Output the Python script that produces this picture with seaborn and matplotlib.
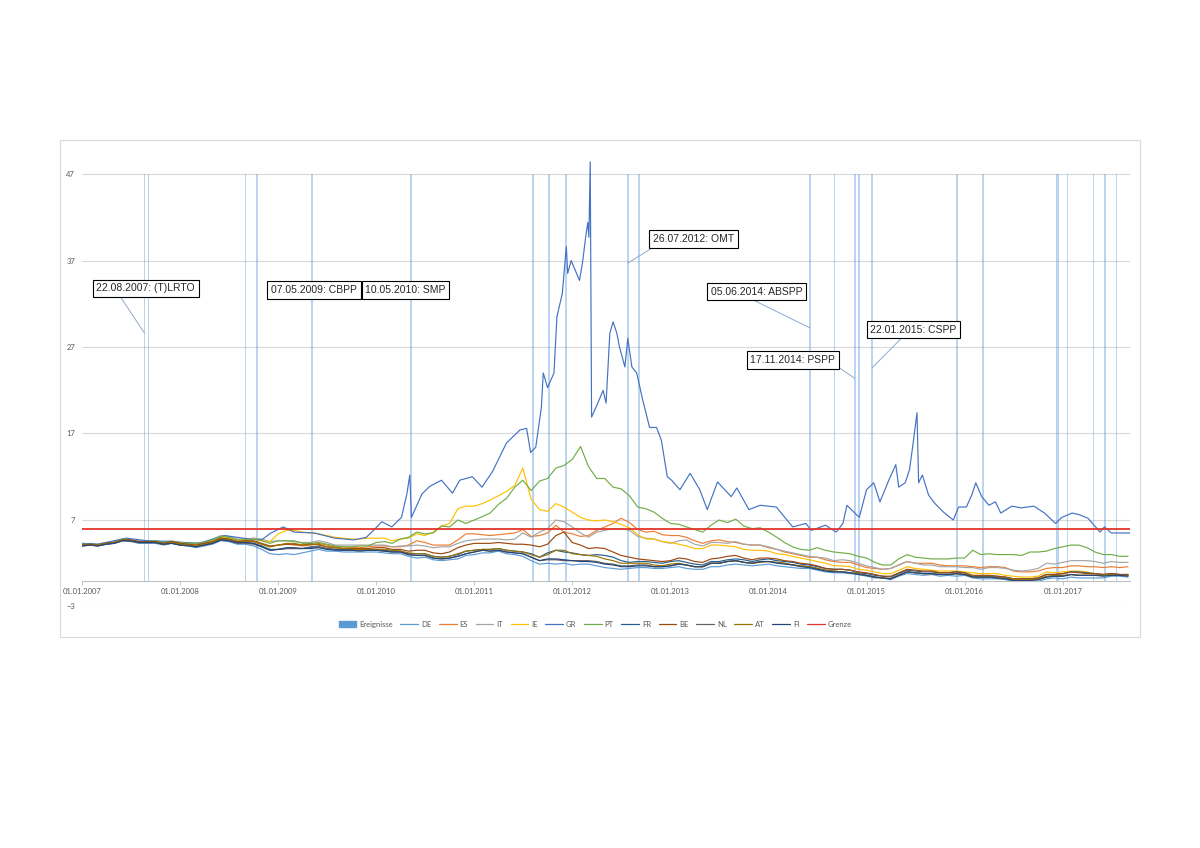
import pandas as pd
import matplotlib
matplotlib.use("Agg")
import matplotlib.pyplot as plt
import matplotlib.dates as mdates
from matplotlib.lines import Line2D
from matplotlib.patches import Patch, Rectangle
import seaborn as sns

# monthly yields, Jan 2007 - Sep 2017
months = pd.date_range("2007-01-01", "2017-09-01", freq="MS")

de = [4.0, 4.1, 4.0, 4.2, 4.3, 4.6, 4.5, 4.3, 4.3, 4.3, 4.1, 4.3,
      4.1, 4.0, 3.8, 4.0, 4.2, 4.6, 4.5, 4.2, 4.2, 4.0, 3.6, 3.1,
      3.0, 3.1, 3.0, 3.2, 3.4, 3.6, 3.4, 3.4, 3.3, 3.3, 3.3, 3.3,
      3.3, 3.2, 3.1, 3.1, 2.8, 2.6, 2.7, 2.4, 2.3, 2.4, 2.5, 2.9,
      3.0, 3.2, 3.2, 3.4, 3.1, 3.0, 2.8, 2.3, 1.9, 2.0, 1.9, 2.0,
      1.8, 1.9, 1.9, 1.7, 1.5, 1.4, 1.3, 1.4, 1.5, 1.5, 1.4, 1.4,
      1.5, 1.6, 1.4, 1.3, 1.3, 1.6, 1.6, 1.8, 1.9, 1.8, 1.7, 1.8,
      1.9, 1.7, 1.6, 1.5, 1.4, 1.4, 1.2, 1.0, 0.9, 0.9, 0.8, 0.7,
      0.5, 0.3, 0.3, 0.1, 0.5, 0.8, 0.7, 0.6, 0.7, 0.5, 0.6, 0.5,
      0.6, 0.3, 0.2, 0.2, 0.2, 0.1, -0.1, -0.1, -0.1, -0.1, 0.2, 0.3,
      0.2, 0.4, 0.3, 0.3, 0.3, 0.3, 0.5, 0.5, 0.4]

es = [4.1, 4.2, 4.1, 4.3, 4.4, 4.7, 4.6, 4.5, 4.5, 4.5, 4.3, 4.4,
      4.3, 4.2, 4.1, 4.3, 4.5, 4.9, 4.8, 4.6, 4.6, 4.5, 4.2, 3.9,
      4.1, 4.2, 4.1, 4.0, 4.1, 4.3, 4.1, 3.9, 3.9, 3.8, 3.8, 3.9,
      4.0, 4.0, 3.9, 3.9, 4.1, 4.6, 4.4, 4.1, 4.1, 4.1, 4.7, 5.4,
      5.4, 5.3, 5.2, 5.3, 5.4, 5.5, 5.9, 5.1, 5.2, 5.5, 6.4, 5.6,
      5.4, 5.1, 5.2, 5.8, 6.2, 6.6, 7.2, 6.7, 5.9, 5.6, 5.7, 5.3,
      5.2, 5.2, 5.0, 4.6, 4.3, 4.6, 4.7, 4.5, 4.4, 4.2, 4.1, 4.1,
      3.8, 3.6, 3.3, 3.1, 2.9, 2.7, 2.7, 2.4, 2.2, 2.1, 2.1, 1.8,
      1.5, 1.4, 1.3, 1.4, 1.8, 2.2, 2.0, 2.0, 2.0, 1.8, 1.7, 1.7,
      1.7, 1.6, 1.5, 1.6, 1.6, 1.5, 1.1, 1.0, 1.0, 1.1, 1.4, 1.5,
      1.5, 1.7, 1.7, 1.6, 1.6, 1.5, 1.6, 1.5, 1.6]

it = [4.2, 4.3, 4.2, 4.4, 4.5, 4.8, 4.7, 4.6, 4.6, 4.6, 4.5, 4.6,
      4.4, 4.3, 4.3, 4.5, 4.8, 5.2, 5.1, 4.8, 4.8, 4.9, 4.8, 4.5,
      4.6, 4.6, 4.5, 4.4, 4.4, 4.6, 4.4, 4.1, 4.1, 4.1, 4.1, 4.1,
      4.1, 4.1, 3.9, 4.0, 4.0, 4.1, 4.0, 3.8, 3.9, 3.9, 4.3, 4.6,
      4.7, 4.8, 4.8, 4.8, 4.7, 4.8, 5.5, 5.0, 5.6, 6.0, 7.0, 6.8,
      6.2, 5.5, 5.0, 5.6, 5.8, 6.0, 6.0, 5.8, 5.1, 4.9, 4.8, 4.5,
      4.3, 4.6, 4.7, 4.2, 4.0, 4.4, 4.4, 4.3, 4.5, 4.2, 4.1, 4.1,
      3.9, 3.6, 3.4, 3.2, 3.0, 2.8, 2.7, 2.6, 2.3, 2.4, 2.3, 2.0,
      1.7, 1.5, 1.3, 1.4, 1.8, 2.2, 2.0, 1.8, 1.8, 1.6, 1.6, 1.6,
      1.5, 1.5, 1.3, 1.5, 1.5, 1.4, 1.2, 1.1, 1.2, 1.4, 2.0, 1.9,
      2.1, 2.3, 2.3, 2.3, 2.2, 2.0, 2.2, 2.1, 2.1]

ie = [4.1, 4.2, 4.1, 4.3, 4.4, 4.7, 4.6, 4.4, 4.5, 4.5, 4.4, 4.5,
      4.3, 4.3, 4.2, 4.4, 4.6, 5.0, 5.0, 4.7, 4.8, 4.8, 4.6, 4.5,
      5.4, 5.8, 5.8, 5.6, 5.5, 5.4, 5.2, 5.0, 4.9, 4.8, 4.8, 4.9,
      4.9, 4.9, 4.6, 4.8, 4.9, 5.4, 5.2, 5.6, 6.3, 6.6, 8.3, 8.6,
      8.6, 8.9, 9.3, 9.8, 10.3, 11.0, 13.0, 9.4, 8.2, 8.0, 8.9, 8.5,
      7.9, 7.3, 7.0, 6.9, 7.0, 6.8, 6.5, 6.1, 5.3, 4.8, 4.8, 4.5,
      4.4, 4.2, 4.0, 3.7, 3.7, 4.1, 4.1, 4.0, 3.9, 3.6, 3.5, 3.5,
      3.4, 3.1, 3.0, 2.8, 2.6, 2.4, 2.2, 2.0, 1.7, 1.7, 1.6, 1.3,
      1.2, 1.0, 0.8, 0.8, 1.2, 1.6, 1.4, 1.3, 1.2, 1.1, 1.1, 1.1,
      1.0, 0.9, 0.8, 0.8, 0.8, 0.6, 0.5, 0.4, 0.4, 0.5, 1.0, 0.9,
      1.0, 1.1, 1.1, 1.0, 0.8, 0.7, 0.8, 0.7, 0.6]

pt = [4.2, 4.2, 4.1, 4.3, 4.4, 4.8, 4.7, 4.5, 4.5, 4.6, 4.4, 4.5,
      4.4, 4.3, 4.3, 4.4, 4.7, 5.1, 5.0, 4.7, 4.7, 4.8, 4.6, 4.3,
      4.6, 4.6, 4.6, 4.3, 4.3, 4.4, 4.2, 4.0, 3.9, 3.9, 4.0, 4.0,
      4.4, 4.5, 4.3, 4.8, 5.0, 5.6, 5.4, 5.5, 6.3, 6.2, 7.0, 6.6,
      7.0, 7.4, 7.8, 8.8, 9.5, 10.8, 11.6, 10.4, 11.5, 11.8, 13.0, 13.3,
      14.0, 15.5, 13.2, 11.8, 11.8, 10.8, 10.6, 9.8, 8.5, 8.3, 7.9, 7.2,
      6.6, 6.5, 6.2, 5.9, 5.6, 6.4, 7.0, 6.7, 7.1, 6.3, 6.0, 6.1,
      5.6, 5.0, 4.4, 3.9, 3.6, 3.5, 3.8, 3.5, 3.3, 3.2, 3.1, 2.8,
      2.6, 2.1, 1.8, 1.8, 2.5, 3.0, 2.7, 2.6, 2.5, 2.5, 2.5, 2.6,
      2.6, 3.5, 3.0, 3.1, 3.0, 3.0, 3.0, 2.9, 3.3, 3.3, 3.4, 3.7,
      3.9, 4.1, 4.1, 3.8, 3.3, 3.0, 3.0, 2.8, 2.8]

fr = [4.1, 4.2, 4.1, 4.3, 4.4, 4.7, 4.6, 4.4, 4.4, 4.4, 4.2, 4.4,
      4.2, 4.1, 4.0, 4.2, 4.4, 4.8, 4.7, 4.4, 4.4, 4.3, 4.0, 3.6,
      3.6, 3.7, 3.7, 3.7, 3.9, 3.9, 3.7, 3.6, 3.6, 3.6, 3.6, 3.6,
      3.5, 3.5, 3.4, 3.4, 3.1, 3.1, 3.1, 2.8, 2.7, 2.8, 3.0, 3.4,
      3.5, 3.6, 3.6, 3.7, 3.5, 3.4, 3.3, 3.1, 2.7, 3.2, 3.5, 3.3,
      3.2, 3.0, 2.9, 3.0, 2.9, 2.7, 2.3, 2.1, 2.2, 2.2, 2.1, 2.0,
      2.2, 2.3, 2.1, 1.9, 1.8, 2.2, 2.2, 2.4, 2.5, 2.4, 2.2, 2.4,
      2.5, 2.3, 2.2, 2.1, 1.9, 1.8, 1.6, 1.4, 1.3, 1.3, 1.2, 0.9,
      0.8, 0.6, 0.5, 0.4, 0.8, 1.2, 1.1, 1.0, 1.0, 0.9, 0.9, 1.0,
      0.9, 0.5, 0.5, 0.5, 0.5, 0.4, 0.2, 0.2, 0.2, 0.3, 0.7, 0.7,
      0.8, 1.0, 1.0, 0.9, 0.8, 0.7, 0.8, 0.7, 0.7]

be = [4.1, 4.2, 4.1, 4.3, 4.4, 4.7, 4.7, 4.5, 4.5, 4.5, 4.3, 4.5,
      4.3, 4.2, 4.1, 4.3, 4.5, 4.9, 4.8, 4.5, 4.6, 4.6, 4.3, 4.0,
      4.1, 4.2, 4.2, 4.1, 4.2, 4.1, 3.9, 3.8, 3.7, 3.7, 3.7, 3.7,
      3.8, 3.8, 3.6, 3.6, 3.4, 3.5, 3.5, 3.2, 3.1, 3.3, 3.8, 4.1,
      4.3, 4.3, 4.3, 4.4, 4.3, 4.2, 4.2, 4.1, 3.9, 4.2, 5.2, 5.6,
      4.4, 4.1, 3.7, 3.8, 3.7, 3.3, 2.9, 2.7, 2.5, 2.4, 2.3, 2.2,
      2.3, 2.6, 2.5, 2.2, 2.1, 2.5, 2.6, 2.8, 2.9, 2.6, 2.4, 2.6,
      2.6, 2.5, 2.3, 2.2, 2.0, 1.9, 1.7, 1.4, 1.3, 1.3, 1.2, 1.0,
      0.9, 0.7, 0.5, 0.5, 0.9, 1.3, 1.2, 1.1, 1.1, 0.9, 0.9, 1.0,
      0.9, 0.6, 0.6, 0.6, 0.5, 0.4, 0.2, 0.2, 0.2, 0.3, 0.7, 0.7,
      0.8, 1.0, 0.9, 0.8, 0.8, 0.7, 0.8, 0.7, 0.7]

nl = [4.0, 4.1, 4.0, 4.2, 4.3, 4.6, 4.6, 4.4, 4.4, 4.4, 4.2, 4.3,
      4.1, 4.1, 4.0, 4.1, 4.3, 4.7, 4.6, 4.3, 4.3, 4.2, 3.9, 3.5,
      3.6, 3.7, 3.7, 3.7, 3.8, 3.9, 3.7, 3.6, 3.5, 3.5, 3.5, 3.5,
      3.5, 3.4, 3.3, 3.3, 3.0, 2.9, 2.9, 2.6, 2.5, 2.6, 2.8, 3.1,
      3.3, 3.5, 3.4, 3.5, 3.3, 3.2, 3.1, 2.7, 2.3, 2.4, 2.4, 2.3,
      2.3, 2.3, 2.3, 2.2, 2.0, 1.9, 1.7, 1.7, 1.8, 1.8, 1.6, 1.6,
      1.7, 1.9, 1.8, 1.6, 1.6, 2.0, 2.0, 2.2, 2.3, 2.1, 2.0, 2.2,
      2.2, 2.1, 2.0, 1.8, 1.7, 1.6, 1.4, 1.2, 1.1, 1.0, 0.9, 0.8,
      0.6, 0.4, 0.3, 0.2, 0.6, 1.0, 0.9, 0.8, 0.8, 0.7, 0.7, 0.8,
      0.7, 0.4, 0.4, 0.4, 0.3, 0.3, 0.0, 0.0, 0.0, 0.1, 0.4, 0.5,
      0.5, 0.7, 0.6, 0.6, 0.6, 0.6, 0.7, 0.6, 0.6]

at = [4.1, 4.1, 4.1, 4.3, 4.4, 4.7, 4.6, 4.4, 4.4, 4.4, 4.2, 4.4,
      4.2, 4.1, 4.0, 4.2, 4.4, 4.8, 4.7, 4.4, 4.5, 4.5, 4.2, 3.9,
      4.1, 4.3, 4.3, 4.1, 4.2, 4.2, 3.9, 3.8, 3.7, 3.6, 3.6, 3.6,
      3.6, 3.6, 3.5, 3.4, 3.2, 3.1, 3.1, 2.8, 2.7, 2.8, 3.1, 3.4,
      3.5, 3.6, 3.6, 3.7, 3.5, 3.4, 3.3, 3.0, 2.7, 3.0, 3.5, 3.5,
      3.1, 3.0, 2.9, 2.8, 2.5, 2.3, 2.0, 2.0, 2.0, 2.0, 1.8, 1.7,
      1.9, 2.0, 1.8, 1.6, 1.6, 2.0, 2.0, 2.2, 2.3, 2.1, 2.0, 2.1,
      2.2, 2.1, 2.0, 1.8, 1.7, 1.6, 1.4, 1.2, 1.1, 1.0, 0.9, 0.8,
      0.6, 0.4, 0.3, 0.2, 0.6, 1.0, 0.9, 0.8, 0.8, 0.7, 0.7, 0.8,
      0.7, 0.5, 0.4, 0.4, 0.3, 0.3, 0.1, 0.1, 0.1, 0.2, 0.5, 0.6,
      0.6, 0.7, 0.6, 0.6, 0.6, 0.6, 0.7, 0.6, 0.6]

fi = [4.0, 4.1, 4.0, 4.2, 4.3, 4.6, 4.6, 4.4, 4.4, 4.4, 4.2, 4.3,
      4.1, 4.0, 3.9, 4.1, 4.3, 4.7, 4.6, 4.4, 4.4, 4.3, 3.9, 3.5,
      3.6, 3.8, 3.8, 3.7, 3.7, 3.8, 3.6, 3.5, 3.5, 3.5, 3.4, 3.5,
      3.5, 3.4, 3.3, 3.3, 3.0, 2.9, 2.9, 2.6, 2.5, 2.6, 2.8, 3.1,
      3.3, 3.5, 3.4, 3.5, 3.3, 3.2, 3.1, 2.7, 2.3, 2.5, 2.5, 2.4,
      2.3, 2.2, 2.2, 2.1, 1.9, 1.8, 1.6, 1.6, 1.7, 1.7, 1.6, 1.6,
      1.7, 1.9, 1.8, 1.6, 1.6, 2.0, 2.0, 2.2, 2.3, 2.1, 2.0, 2.2,
      2.2, 2.0, 1.9, 1.8, 1.6, 1.5, 1.3, 1.1, 1.0, 1.0, 0.9, 0.7,
      0.6, 0.4, 0.3, 0.2, 0.6, 1.0, 0.9, 0.8, 0.8, 0.7, 0.7, 0.8,
      0.7, 0.4, 0.4, 0.4, 0.3, 0.2, 0.0, 0.0, 0.0, 0.1, 0.4, 0.5,
      0.5, 0.7, 0.6, 0.6, 0.6, 0.5, 0.6, 0.6, 0.5]

# Greece is read at irregular dates to keep its spikes
gr_dates = ["2007-01-01", "2007-03-01", "2007-06-15", "2007-09-01", "2007-12-01",
            "2008-01-15", "2008-03-15", "2008-06-15", "2008-08-01", "2008-09-15",
            "2008-10-31", "2008-12-05", "2009-01-20", "2009-03-01", "2009-05-15",
            "2009-07-30", "2009-10-10", "2009-11-25", "2009-12-25", "2010-01-22",
            "2010-02-28", "2010-04-05", "2010-04-25", "2010-05-06", "2010-05-12",
            "2010-06-10", "2010-06-20", "2010-07-20", "2010-09-01", "2010-10-12",
            "2010-11-08", "2010-12-25", "2011-01-30", "2011-03-10", "2011-05-01",
            "2011-06-20", "2011-07-15", "2011-07-30", "2011-08-18", "2011-09-08",
            "2011-09-15", "2011-10-01", "2011-10-25", "2011-11-05", "2011-11-25",
            "2011-12-10", "2011-12-15", "2011-12-28", "2012-01-28", "2012-02-08",
            "2012-02-20", "2012-02-28", "2012-03-03", "2012-03-08", "2012-03-13",
            "2012-04-05", "2012-04-25", "2012-05-06", "2012-05-20", "2012-06-01",
            "2012-06-15", "2012-06-25", "2012-07-15", "2012-07-26", "2012-08-10",
            "2012-08-28", "2012-09-20", "2012-10-15", "2012-11-10", "2012-11-28",
            "2012-12-20", "2013-01-05", "2013-02-05", "2013-03-15", "2013-04-20",
            "2013-05-18", "2013-06-25", "2013-08-15", "2013-09-05", "2013-10-20",
            "2013-12-01", "2014-01-30", "2014-04-01", "2014-05-20", "2014-06-10",
            "2014-08-01", "2014-09-10", "2014-10-05", "2014-10-20", "2014-12-05",
            "2015-01-01", "2015-01-28", "2015-02-20", "2015-03-25", "2015-04-20",
            "2015-05-01", "2015-05-25", "2015-06-10", "2015-06-22", "2015-07-08",
            "2015-07-14", "2015-07-28", "2015-08-20", "2015-09-10", "2015-10-15",
            "2015-11-20", "2015-12-10", "2016-01-08", "2016-01-28", "2016-02-12",
            "2016-03-05", "2016-04-01", "2016-04-25", "2016-05-15", "2016-06-25",
            "2016-07-30", "2016-09-15", "2016-10-25", "2016-12-05", "2016-12-28",
            "2017-02-05", "2017-03-05", "2017-04-05", "2017-05-20", "2017-06-05",
            "2017-07-01", "2017-09-08"]
gr = [4.3, 4.2, 4.9, 4.6, 4.5,
      4.4, 4.3, 5.2, 5.0, 4.8,
      4.7, 5.5, 6.2, 5.6, 5.5,
      4.9, 4.7, 5.0, 5.9, 6.8,
      6.2, 7.3, 10.0, 12.2, 7.3,
      9.3, 10.0, 10.9, 11.6, 10.1,
      11.6, 12.0, 10.8, 12.6, 15.9,
      17.4, 17.6, 14.8, 15.4, 20.0,
      24.0, 22.3, 24.0, 30.5, 33.2,
      38.6, 35.5, 37.0, 34.7, 36.7,
      39.7, 41.4, 39.7, 48.4, 18.9,
      20.5, 22.0, 20.5, 28.6, 29.9,
      28.6, 27.0, 24.7, 28.0, 24.7,
      24.0, 20.8, 17.7, 17.7, 16.2,
      12.0, 11.6, 10.5, 12.4, 10.5,
      8.2, 11.4, 9.7, 10.7, 8.2,
      8.7, 8.5, 6.2, 6.6, 5.8,
      6.4, 5.6, 6.6, 8.7, 7.3,
      10.5, 11.3, 9.1, 11.6, 13.4,
      10.8, 11.3, 12.8, 15.5, 19.4,
      11.3, 12.2, 9.9, 9.0, 7.9,
      7.0, 8.5, 8.5, 9.9, 11.3,
      9.7, 8.7, 9.1, 7.8, 8.6,
      8.4, 8.6, 7.8, 6.6, 7.3,
      7.8, 7.6, 7.2, 5.6, 6.2,
      5.5, 5.5]

grenze = 6.0
grenze_span = ["2007-01-01", "2017-09-08"]

# ECB measures ("Ereignisse")
event_dates = ["2007-08-22", "2007-09-06", "2008-09-01", "2008-10-15", "2009-05-07",
               "2010-05-10", "2011-08-08", "2011-10-06", "2011-12-08", "2012-07-26",
               "2012-09-06", "2014-06-05", "2014-09-04", "2014-11-17", "2014-11-21",
               "2014-12-04", "2015-01-22", "2015-12-03", "2016-03-10", "2016-12-08",
               "2016-12-14", "2017-01-19", "2017-04-26", "2017-06-08", "2017-07-20"]
event_value = 47

countries = ["DE", "ES", "IT", "IE", "GR", "PT", "FR", "BE", "NL", "AT", "FI"]
colors = ["#5B9BD5", "#ED7D31", "#A5A5A5", "#FFC000", "#4472C4", "#70AD47",
          "#255E91", "#9E480E", "#636363", "#997300", "#264478"]
grenze_color = "#E0352B"
year_ticks = list(range(2007, 2018))

monthly = {"DE": de, "ES": es, "IT": it, "IE": ie, "PT": pt, "FR": fr,
           "BE": be, "NL": nl, "AT": at, "FI": fi}
frames = [pd.DataFrame({"date": months, "land": k, "wert": v}) for k, v in monthly.items()]
frames.append(pd.DataFrame({"date": pd.to_datetime(gr_dates), "land": "GR", "wert": gr}))
df = pd.concat(frames, ignore_index=True)

sns.set_theme(style="white")
plt.rcParams["font.family"] = ["Lato", "DejaVu Sans"]

fig = plt.figure(figsize=(12, 8.48), dpi=100)
ax = fig.add_axes([0.0683, 0.2848, 0.8733, 0.5304])

# chart frame
fig.add_artist(Rectangle((0.05, 0.2488), 0.9, 0.586, transform=fig.transFigure,
                         fill=False, ec="#D9D9D9", lw=0.8))

ax.bar(pd.to_datetime(event_dates), [event_value] * len(event_dates), width=6,
       color="#5B9BD5", alpha=0.42, lw=0, zorder=1)

sns.lineplot(data=df, x="date", y="wert", hue="land", hue_order=countries,
             palette=colors, linewidth=0.85, legend=False, estimator=None, ax=ax, zorder=2)
sns.lineplot(x=pd.to_datetime(grenze_span), y=[grenze, grenze], color=grenze_color,
             linewidth=1.3, ax=ax, zorder=3)

ax.set_xlim(pd.Timestamp("2007-01-01"), pd.Timestamp("2017-09-08"))
ax.set_ylim(-3, 49)
ax.set_yticks([-3, 7, 17, 27, 37, 47])
ax.set_xticks([pd.Timestamp(f"{y}-01-01") for y in year_ticks])
ax.set_xticklabels([f"01.01.{y}" for y in year_ticks])
ax.set_xlabel("")
ax.set_ylabel("")
ax.yaxis.grid(True, color="#D9D9D9", lw=0.8)
ax.xaxis.grid(False)
ax.set_axisbelow(True)
for s in ["left", "top", "right"]:
    ax.spines[s].set_visible(False)
ax.spines["bottom"].set_position(("data", 0))
ax.spines["bottom"].set_color("#BFBFBF")
ax.spines["bottom"].set_linewidth(0.8)
ax.tick_params(axis="x", bottom=True, length=3, width=0.6, color="#BFBFBF",
               labelsize=5.5, labelcolor="#595959", pad=2.5)
ax.tick_params(axis="y", left=False, length=0, labelsize=5.5, labelcolor="#595959", pad=5)

# text boxes for the measures, leader starts at relpos on the box
box = dict(boxstyle="square,pad=0.35", fc="white", ec="black", lw=0.8)
notes = [("22.08.2007: (T)LRTO", "2007-08-22", 28.6, "2007-08-26", 33.8, (0.22, 0)),
         ("26.07.2012: OMT", "2012-07-26", 36.7, "2013-03-28", 39.5, (0.07, 0)),
         ("05.06.2014: ABSPP", "2014-06-05", 29.2, "2013-11-17", 33.4, (0.39, 0)),
         ("22.01.2015: CSPP", "2015-01-22", 24.6, "2015-06-25", 29.0, (0.4, 0)),
         ("17.11.2014: PSPP", "2014-11-17", 23.4, "2014-04-01", 25.5, (1.0, 0))]
for txt, xd, yv, tx, ty, rp in notes:
    ax.annotate(txt, xy=(mdates.date2num(pd.Timestamp(xd)), yv),
                xytext=(mdates.date2num(pd.Timestamp(tx)), ty),
                ha="center", va="center", fontsize=7.5, family="Liberation Sans",
                bbox=box, zorder=5,
                arrowprops=dict(arrowstyle="-", color="#8FAACC", lw=0.7,
                                shrinkA=0, shrinkB=0, relpos=rp))
for txt, tx, ty in [("07.05.2009: CBPP", "2009-05-14", 33.6),
                    ("10.05.2010: SMP", "2010-04-20", 33.6)]:
    ax.text(mdates.date2num(pd.Timestamp(tx)), ty, txt, ha="center", va="center",
            fontsize=7.5, family="Liberation Sans", bbox=box, zorder=5)

handles = [Patch(color="#5B9BD5", label="Ereignisse")]
handles += [Line2D([], [], color=c, lw=0.9, label=n) for n, c in zip(countries, colors)]
handles.append(Line2D([], [], color=grenze_color, lw=0.9, label="Grenze"))
fig.legend(handles=handles, loc="center", bbox_to_anchor=(0.496, 0.264), ncol=13,
           frameon=False, fontsize=5.5, labelcolor="#595959", handlelength=2.3,
           handletextpad=0.4, columnspacing=1.0)

fig.savefig("out.png", dpi=100, facecolor="white")
